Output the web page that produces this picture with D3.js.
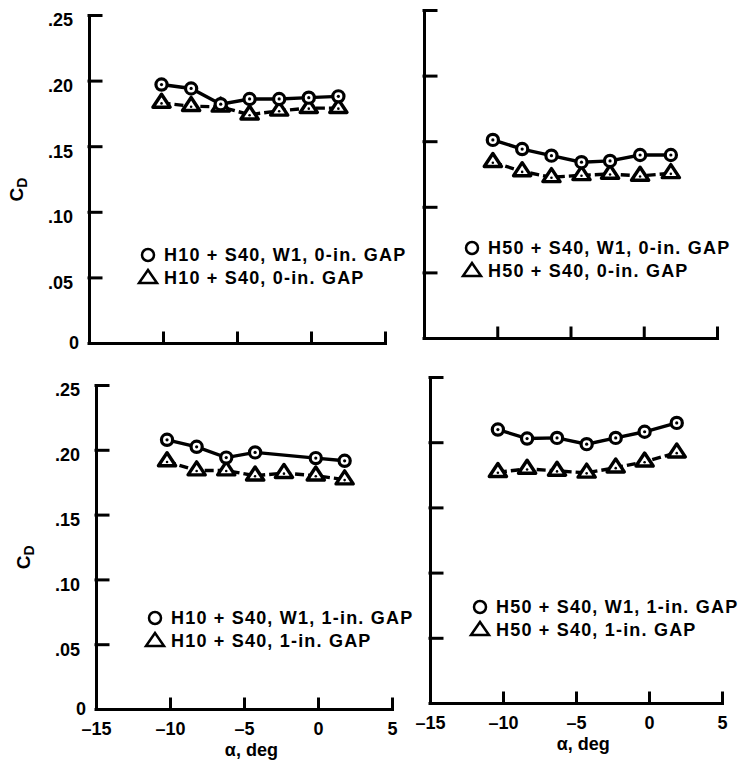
<!DOCTYPE html>
<html>
<head>
<meta charset="utf-8">
<script src="https://d3js.org/d3.v7.min.js"></script>
<style>
  body { margin: 0; background: #fff; }
  svg text { font-family: "Liberation Sans", Arial, Helvetica, sans-serif; font-weight: bold; fill: #000; }
</style>
</head>
<body>
<svg id="chart" width="749" height="763"></svg>
<script>
// axis ticks
var xTicks = [-15, -10, -5, 0, 5];
var yTicks = [0, 0.05, 0.10, 0.15, 0.20, 0.25];

// top left: H10 + S40, 0-in. gap
var alphaTL = [-10.1, -8.1, -6.1, -4.15, -2.15, -0.15, 1.85];
var cdTL_W1 = [0.197, 0.194, 0.182, 0.186, 0.186, 0.187, 0.188];
var cdTL = [0.183, 0.1805, 0.180, 0.174, 0.177, 0.179, 0.179];
var legendTL = ["H10 + S40, W1, 0-in. GAP", "H10 + S40, 0-in. GAP"];

// top right: H50 + S40, 0-in. gap
var alphaTR = [-10.3, -8.3, -6.3, -4.25, -2.3, -0.25, 1.85];
var cdTR_W1 = [0.151, 0.144, 0.139, 0.134, 0.135, 0.1395, 0.1395];
var cdTR = [0.134, 0.127, 0.1225, 0.124, 0.125, 0.1235, 0.1255];
var legendTR = ["H50 + S40, W1, 0-in. GAP", "H50 + S40, 0-in. GAP"];

// bottom left: H10 + S40, 1-in. gap (no W1 point at -2 deg)
var alphaBL = [-10.2, -8.2, -6.2, -4.25, -2.3, -0.15, 1.8];
var cdBL_W1 = [0.2077, 0.2023, 0.194, 0.198, null, 0.1936, 0.1915];
var cdBL = [0.191, 0.184, 0.184, 0.180, 0.182, 0.180, 0.177];
var legendBL = ["H10 + S40, W1, 1-in. GAP", "H10 + S40, 1-in. GAP"];

// bottom right: H50 + S40, 1-in. gap
var alphaBR = [-10.35, -8.35, -6.3, -4.27, -2.28, -0.3, 1.9];
var cdBR_W1 = [0.2097, 0.2028, 0.2033, 0.1985, 0.2033, 0.208, 0.2148];
var cdBR = [0.177, 0.1795, 0.178, 0.1765, 0.1805, 0.185, 0.192];
var legendBR = ["H50 + S40, W1, 1-in. GAP", "H50 + S40, 1-in. GAP"];

var panels = [
  {x0: 89, x1: 385, y0: 15, y1: 343, alpha: alphaTL, circ: cdTL_W1, tri: cdTL, legend: legendTL, lx: 148, ly: 255, left: true, bottom: false},
  {x0: 424, x1: 717, y0: 10, y1: 338, alpha: alphaTR, circ: cdTR_W1, tri: cdTR, legend: legendTR, lx: 472, ly: 248, left: false, bottom: false},
  {x0: 96, x1: 392, y0: 385, y1: 709, alpha: alphaBL, circ: cdBL_W1, tri: cdBL, legend: legendBL, lx: 155, ly: 618, left: true, bottom: true},
  {x0: 430, x1: 722, y0: 377, y1: 703, alpha: alphaBR, circ: cdBR_W1, tri: cdBR, legend: legendBR, lx: 480, ly: 607, left: false, bottom: true}
];

var svg = d3.select("#chart");

var fmtY = function(d) { return d === 0 ? "0" : d3.format(".2f")(d).replace("0.", "."); };
var fmtX = function(d) { return d < 0 ? "\u2013" + Math.abs(d) : String(d); };

var triPath = "M0,-8.7L8.6,4.3L-8.6,4.3Z";
var triLegend = "M0,-8L9,5L-9,5Z";

panels.forEach(function(p) {
  var x = d3.scaleLinear().domain([-15, 5]).range([p.x0, p.x1]);
  var y = d3.scaleLinear().domain([0, 0.25]).range([p.y1, p.y0]);
  var g = svg.append("g");

  // y axis, ticks pointing inward
  var ya = g.append("g")
    .attr("transform", "translate(" + p.x0 + ",0)")
    .call(d3.axisLeft(y).tickValues(yTicks).tickSizeInner(-12).tickSizeOuter(0)
      .tickPadding(16).tickFormat(p.left ? fmtY : ""));
  // x axis
  var xa = g.append("g")
    .attr("transform", "translate(0," + p.y1 + ")")
    .call(d3.axisBottom(x).tickValues(xTicks).tickSizeInner(-10).tickSizeOuter(0)
      .tickPadding(13).tickFormat(p.bottom ? fmtX : ""));

  [ya, xa].forEach(function(a) {
    a.attr("font-size", null).attr("font-family", null);
    a.selectAll("path, line").attr("stroke", "#000").attr("stroke-width", 3).attr("stroke-linecap", "square");
    a.selectAll("text").style("font-size", "18px");
  });
  ya.selectAll("text")
    .attr("dy", function(d) { return d === 0 ? "0.3em" : "0.6em"; })
    .attr("x", function(d) { return d === 0 ? -10 : -16; });

  if (p.left) {
    var cy = y(0.117), cx = p.x0 - 66;
    var t = g.append("text")
      .attr("transform", "translate(" + cx + "," + cy + ") rotate(-90)")
      .attr("text-anchor", "middle")
      .style("font-size", "19px");
    t.append("tspan").text("C");
    t.append("tspan").attr("baseline-shift", "-28%").style("font-size", "14px").text("D");
  }
  if (p.bottom) {
    g.append("text")
      .attr("x", x(-4.5))
      .attr("y", p.y1 + 47)
      .attr("text-anchor", "middle")
      .style("font-size", "18px")
      .text("\u03b1, deg");
  }

  var triData = p.alpha.map(function(a, i) { return {a: a, v: p.tri[i]}; });
  var circData = p.alpha.map(function(a, i) { return {a: a, v: p.circ[i]}; })
    .filter(function(d) { return d.v !== null; });

  var line = d3.line().x(function(d) { return x(d.a); }).y(function(d) { return y(d.v); });

  g.append("path").datum(triData)
    .attr("d", line).attr("fill", "none").attr("stroke", "#000")
    .attr("stroke-width", 3.4).attr("stroke-dasharray", "9,4");
  g.append("path").datum(circData)
    .attr("d", line).attr("fill", "none").attr("stroke", "#000")
    .attr("stroke-width", 3.4);

  // triangle markers
  var tm = g.selectAll(".tri").data(triData).enter().append("g")
    .attr("transform", function(d) { return "translate(" + x(d.a) + "," + y(d.v) + ")"; });
  tm.append("path").attr("d", triPath).attr("fill", "#fff").attr("stroke", "#000")
    .attr("stroke-width", 3.4).attr("stroke-linejoin", "round");
  tm.append("circle").attr("cy", 0.5).attr("r", 1.3).attr("fill", "#000");

  // circle markers
  var cm = g.selectAll(".circ").data(circData).enter().append("g")
    .attr("transform", function(d) { return "translate(" + x(d.a) + "," + y(d.v) + ")"; });
  cm.append("circle").attr("r", 5.6).attr("fill", "#fff").attr("stroke", "#000").attr("stroke-width", 3.2);
  cm.append("circle").attr("r", 1.6).attr("fill", "#000");

  // legend
  var lg = g.append("g").attr("transform", "translate(" + p.lx + "," + p.ly + ")");
  lg.append("circle").attr("r", 6).attr("fill", "none").attr("stroke", "#000").attr("stroke-width", 2.5);
  lg.append("path").attr("d", triLegend).attr("transform", "translate(0,23)")
    .attr("fill", "none").attr("stroke", "#000").attr("stroke-width", 2.5).attr("stroke-linejoin", "miter");
  lg.selectAll("text.lab").data(p.legend).enter().append("text")
    .attr("x", 16)
    .attr("y", function(d, i) { return 6 + i * 22.5; })
    .style("font-size", "18px")
    .style("letter-spacing", "1.2px")
    .text(function(d) { return d; });
});
</script>
</body>
</html>
